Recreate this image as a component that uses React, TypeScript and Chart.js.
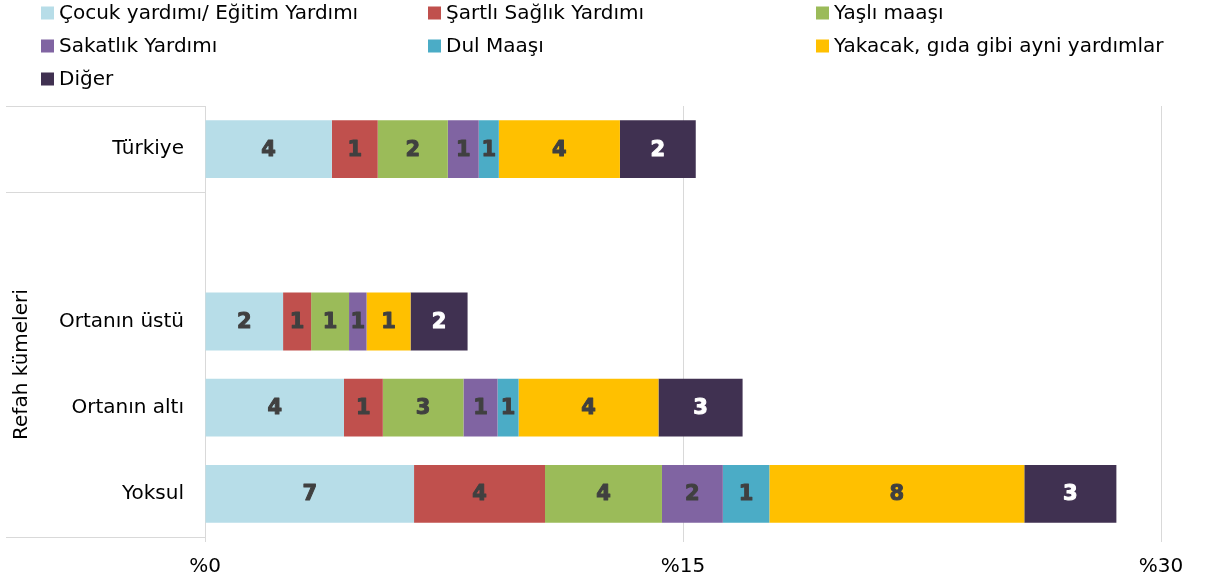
import React, { useEffect, useRef } from "react";
import { Chart, registerables } from "chart.js";

Chart.register(...registerables);

const categories = ["Türkiye", "", "Ortanın üstü", "Ortanın altı", "Yoksul"];
const seriesNames = [
  "Çocuk yardımı/ Eğitim Yardımı",
  "Şartlı Sağlık Yardımı",
  "Yaşlı maaşı",
  "Sakatlık Yardımı",
  "Dul Maaşı",
  "Yakacak, gıda gibi ayni yardımlar",
  "Diğer",
];
const seriesColors = ["#b7dde8", "#c0504d", "#9bbb59", "#8064a2", "#4bacc6", "#ffc000", "#403151"];
const labelColors = ["#404040", "#404040", "#404040", "#404040", "#404040", "#404040", "#ffffff"];

const cocuk = [3.98, null, 2.45, 4.36, 6.56];
const sartli = [1.44, null, 0.88, 1.22, 4.11];
const yasli = [2.2, null, 1.19, 2.53, 3.67];
const sakatlik = [0.97, null, 0.55, 1.07, 1.91];
const dul = [0.63, null, 0, 0.66, 1.46];
const yakacak = [3.8, null, 1.38, 4.39, 8.0];
const diger = [2.38, null, 1.79, 2.64, 2.89];
const seriesValues = [cocuk, sartli, yasli, sakatlik, dul, yakacak, diger];

const xTicks = [0, 15, 30];
const axisTitle = "Refah kümeleri";

const FONT = "'DejaVu Sans', sans-serif";

const extrasPlugin = {
  id: "extras",
  afterDraw(chart: any) {
    const ctx = chart.ctx;
    const { chartArea } = chart;
    const y = chart.scales.y;
    const boundary = (y.getPixelForValue(0) + y.getPixelForValue(1)) / 2;
    ctx.save();
    ctx.strokeStyle = "#d9d9d9";
    ctx.lineWidth = 1;
    [chartArea.top, boundary, chartArea.bottom].forEach((py: number) => {
      const yy = Math.round(py) + 0.5;
      ctx.beginPath();
      ctx.moveTo(6, yy);
      ctx.lineTo(chartArea.left, yy);
      ctx.stroke();
    });
    ctx.fillStyle = "#000";
    ctx.font = `20px ${FONT}`;
    ctx.textAlign = "center";
    ctx.textBaseline = "middle";
    ctx.translate(22, (boundary + chartArea.bottom) / 2);
    ctx.rotate(-Math.PI / 2);
    ctx.fillText(axisTitle, 0, 0);
    ctx.restore();

    ctx.save();
    ctx.font = `20px ${FONT}`;
    ctx.textBaseline = "middle";
    ctx.textAlign = "left";
    const colX = [41, 428, 816];
    const rowY = [13, 46, 79];
    seriesNames.forEach((name, i) => {
      const cx = colX[i % 3];
      const cy = rowY[Math.floor(i / 3)];
      ctx.fillStyle = seriesColors[i];
      ctx.fillRect(cx, cy - 6.5, 13, 13);
      ctx.fillStyle = "#000";
      ctx.fillText(name, cx + 18, cy + 1);
    });
    ctx.restore();
  },
  afterDatasetsDraw(chart: any) {
    const ctx = chart.ctx;
    ctx.save();
    ctx.font = `bold 21px ${FONT}`;
    ctx.textAlign = "center";
    ctx.textBaseline = "middle";
    ctx.lineWidth = 1;
    ctx.lineJoin = "round";
    chart.data.datasets.forEach((ds: any, di: number) => {
      const meta = chart.getDatasetMeta(di);
      meta.data.forEach((el: any, i: number) => {
        const v = ds.data[i];
        if (v === null || v === undefined || v === 0) return;
        const props = el.getProps(["x", "y", "base"], true);
        const tx = (props.x + props.base) / 2;
        const ty = props.y + 1;
        const t = String(Math.round(v));
        ctx.fillStyle = labelColors[di];
        ctx.strokeStyle = labelColors[di];
        ctx.fillText(t, tx, ty);
        ctx.strokeText(t, tx, ty);
      });
    });
    ctx.restore();
  },
};

export default function App() {
  const ref = useRef<HTMLCanvasElement | null>(null);
  useEffect(() => {
    if (!ref.current) return;
    const chart = new Chart(ref.current, {
      type: "bar",
      data: {
        labels: categories,
        datasets: seriesNames.map((name, i) => ({
          label: name,
          data: seriesValues[i] as any,
          backgroundColor: seriesColors[i],
          borderWidth: 0,
          barPercentage: 0.67,
          categoryPercentage: 1,
        })),
      },
      options: {
        indexAxis: "y",
        animation: false,
        responsive: false,
        layout: { padding: { top: 106, right: 44, left: 0, bottom: 0 } },
        plugins: { legend: { display: false }, tooltip: { enabled: false } },
        scales: {
          x: {
            stacked: true,
            min: 0,
            max: 30,
            afterBuildTicks: (scale: any) => {
              scale.ticks = xTicks.map((v) => ({ value: v }));
            },
            ticks: {
              callback: (v: any) => "%" + v,
              font: { family: FONT, size: 20 },
              color: "#000",
              padding: 13,
              maxRotation: 0,
            },
            grid: { color: "#d9d9d9", tickLength: 5, lineWidth: 1 },
            border: { display: false },
            afterFit: (scale: any) => {
              scale.height = 46;
            },
          },
          y: {
            stacked: true,
            grid: { display: false, drawTicks: false },
            border: { display: false },
            ticks: {
              font: { family: FONT, size: 20 },
              color: "#000",
              padding: 21,
            },
            afterFit: (scale: any) => {
              scale.width = 205;
            },
          },
        },
      },
      plugins: [extrasPlugin],
    });
    return () => chart.destroy();
  }, []);
  return (
    <div style={{ position: "absolute", left: 0, top: 0, width: 1205, height: 583, background: "#fff" }}>
      <canvas ref={ref} width={1205} height={583} />
    </div>
  );
}
